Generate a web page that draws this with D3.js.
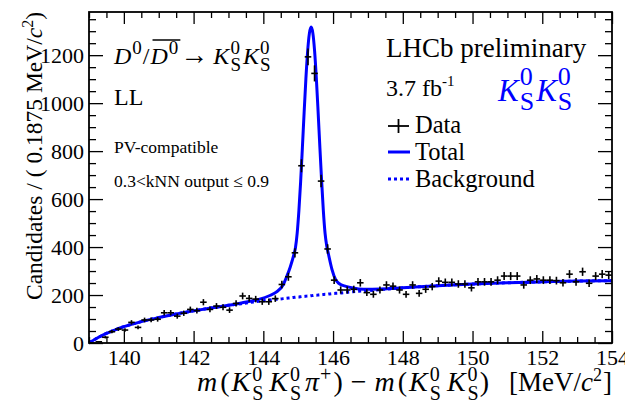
<!DOCTYPE html>
<html>
<head>
<meta charset="utf-8">
<script src="https://cdn.jsdelivr.net/npm/d3@7"></script>
<style>
  body { margin: 0; background: #fff; }
  svg { display: block; }
  text { font-family: "Liberation Serif", "Times New Roman", serif; }
</style>
</head>
<body>
<svg id="chart" width="625" height="406"></svg>
<script>
// Histogram: delta-m spectrum, 80 bins of 0.1875 MeV/c^2 from 139 to 154
const binLow = 139.0;
const binWidth = 0.1875;
const counts = [
  0, 5, 24, 47, 58, 54, 86, 65, 96, 96,
  99, 126, 126, 112, 124, 140, 135, 170, 140, 154,
  149, 137, 165, 196, 186, 183, 172, 172, 185, 244,
  276, 376, 739, 1193, 1124, 675, 392, 262, 221, 221,
  224, 251, 210, 203, 221, 242, 237, 221, 203, 242,
  207, 224, 235, 258, 253, 253, 246, 246, 230, 255,
  255, 255, 262, 279, 279, 279, 242, 262, 267, 262,
  262, 260, 251, 287, 255, 297, 249, 279, 287, 283
];

// Fit components sampled along delta-m
const fitX = [
  139.0, 139.25, 139.5, 139.75, 140.0, 140.5, 141.0, 141.5, 142.0, 142.5, 143.0,
  143.37, 143.87, 144.17, 144.37, 144.57, 144.67, 144.77, 144.87,
  144.92, 144.97, 145.02, 145.07, 145.12, 145.17, 145.22, 145.27, 145.32, 145.37,
  145.42, 145.47, 145.52, 145.57, 145.62, 145.67, 145.72, 145.77, 145.82, 145.87,
  145.97, 146.07, 146.17, 146.37, 146.57, 146.87, 147.37,
  148.0, 149.0, 150.0, 151.0, 152.0, 153.0, 154.0
];
const fitBkg = [
  0, 22, 40, 55, 68, 89, 106, 121, 134, 146, 157,
  164, 174, 179, 182, 185, 187, 188, 190,
  191, 192, 192, 193, 194, 194, 195, 196, 196, 197,
  198, 199, 199, 200, 201, 201, 202, 203, 203, 204,
  206, 207, 208, 211, 214, 217, 223,
  230, 239, 246, 251, 255, 258, 260
];
const fitSig = [
  0, 0, 0, 0, 0, 0, 0, 0, 0, 0, 0,
  3, 8, 18, 30, 58, 90, 128, 175,
  205, 265, 360, 480, 620, 767, 905, 1019, 1094, 1120,
  1094, 1019, 905, 767, 620, 480, 352, 255, 200, 165,
  100, 58, 40, 25, 15, 7, 2,
  0, 0, 0, 0, 0, 0, 0
];

const xTicks = [140, 142, 144, 146, 148, 150, 152, 154];
const yTicks = [0, 200, 400, 600, 800, 1000, 1200];

const xDomain = [139, 154];
const yDomain = [0, 1380];

const svg = d3.select("#chart");
svg.append("rect").attr("width", 625).attr("height", 406).attr("fill", "#fff");

const frame = { left: 89, right: 612, top: 12, bottom: 343 };
const x = d3.scaleLinear().domain(xDomain).range([frame.left, frame.right]);
const y = d3.scaleLinear().domain(yDomain).range([frame.bottom, frame.top]);

const blue = "#0000ff";

// ---- fit curves ----
const total = fitX.map((v, i) => [v, fitBkg[i] + fitSig[i]]);
const bkg = fitX.map((v, i) => [v, fitBkg[i]]);
const line = d3.line().x(d => x(d[0])).y(d => y(d[1])).curve(d3.curveMonotoneX);

svg.append("path").datum(bkg).attr("d", line)
  .attr("fill", "none").attr("stroke", blue).attr("stroke-width", 3)
  .attr("stroke-dasharray", "3,3");
svg.append("path").datum(total).attr("d", line)
  .attr("fill", "none").attr("stroke", blue).attr("stroke-width", 3);

// ---- data points with errors ----
const data = counts.map((n, i) => ({
  lo: binLow + i * binWidth,
  hi: binLow + (i + 1) * binWidth,
  c: binLow + (i + 0.5) * binWidth,
  n: n,
  e: Math.sqrt(n)
}));
const pts = svg.append("g").attr("stroke", "#000").attr("stroke-width", 1.6);
pts.selectAll("line.h").data(data).join("line").attr("class", "h")
  .attr("x1", d => x(d.lo)).attr("x2", d => x(d.hi))
  .attr("y1", d => y(d.n)).attr("y2", d => y(d.n));
pts.selectAll("line.v").data(data).join("line").attr("class", "v")
  .attr("x1", d => x(d.c)).attr("x2", d => x(d.c))
  .attr("y1", d => y(Math.max(0, d.n - d.e))).attr("y2", d => y(d.n + d.e));

// ---- axes (ticks on all four sides, pointing inward) ----
const xMinor = d3.range(139, 154.001, 0.5).filter(v => !xTicks.includes(v));
const yMinor = d3.range(0, 1380, 50).filter(v => !yTicks.includes(v));

function styleAxis(g) {
  g.select(".domain").remove();
  g.selectAll(".tick line").attr("stroke", "#000").attr("stroke-width", 1.3);
  g.selectAll(".tick text").attr("fill", "#000")
    .style("font-family", '"Liberation Serif", "Times New Roman", serif');
}

svg.append("g").attr("transform", `translate(0,${frame.bottom})`)
  .call(d3.axisBottom(x).tickValues(xTicks).tickSize(-12).tickPadding(6).tickFormat(d3.format("d")))
  .call(styleAxis).call(g => g.selectAll(".tick text").style("font-size", "22px"));
svg.append("g").attr("transform", `translate(0,${frame.bottom})`)
  .call(d3.axisBottom(x).tickValues(xMinor).tickSize(-6).tickFormat(""))
  .call(styleAxis);
svg.append("g").attr("transform", `translate(0,${frame.top})`)
  .call(d3.axisTop(x).tickValues(xTicks).tickSize(-12).tickFormat(""))
  .call(styleAxis);
svg.append("g").attr("transform", `translate(0,${frame.top})`)
  .call(d3.axisTop(x).tickValues(xMinor).tickSize(-6).tickFormat(""))
  .call(styleAxis);

svg.append("g").attr("transform", `translate(${frame.left},0)`)
  .call(d3.axisLeft(y).tickValues(yTicks).tickSize(-14).tickPadding(5).tickFormat(d3.format("d")))
  .call(styleAxis).call(g => g.selectAll(".tick text").style("font-size", "22px"));
svg.append("g").attr("transform", `translate(${frame.left},0)`)
  .call(d3.axisLeft(y).tickValues(yMinor).tickSize(-7).tickFormat(""))
  .call(styleAxis);
svg.append("g").attr("transform", `translate(${frame.right},0)`)
  .call(d3.axisRight(y).tickValues(yTicks).tickSize(-14).tickFormat(""))
  .call(styleAxis);
svg.append("g").attr("transform", `translate(${frame.right},0)`)
  .call(d3.axisRight(y).tickValues(yMinor).tickSize(-7).tickFormat(""))
  .call(styleAxis);

svg.append("rect")
  .attr("x", frame.left).attr("y", frame.top)
  .attr("width", frame.right - frame.left).attr("height", frame.bottom - frame.top)
  .attr("fill", "none").attr("stroke", "#000").attr("stroke-width", 1.8);

// ---- rich text helper: runs of text with sub/superscripts ----
function richText(g, x0, y0, parts, fill) {
  let cx = x0;
  const spans = [];
  const put = (t, px, py, size, it) => {
    const el = g.append("text").attr("x", px).attr("y", py).attr("fill", fill || "#000")
      .style("font-size", size + "px").style("font-style", it ? "italic" : "normal").text(t);
    return el.node().getComputedTextLength();
  };
  parts.forEach(p => {
    const start = cx;
    if (p.sup !== undefined || p.sub !== undefined) {
      let w1 = 0, w2 = 0;
      if (p.sup) w1 = put(p.sup, cx, y0 - p.rise, p.size, p.it);
      if (p.sub) w2 = put(p.sub, cx, y0 + p.drop, p.size, p.it);
      cx += Math.max(w1, w2);
    } else {
      cx += put(p.t, cx, y0 - (p.rise || 0), p.size, p.it);
    }
    if (p.gap) cx += p.gap;
    spans.push([start, cx]);
  });
  return { end: cx, spans };
}

function kShort(size, subSize, rise, drop, gap) {
  return [
    { t: "K", size: size, it: true, gap: 2 },
    { sup: "0", sub: "S", size: subSize, rise: rise, drop: drop, gap: gap }
  ];
}

// ---- x axis title (right aligned to frame) ----
{
  const g = svg.append("g");
  const s = 28, ss = 20, r = 10, dr = 9, gp = 6;
  const parts = [
    { t: "m", size: s, it: true, gap: 3 }, { t: "(", size: s, gap: 2 },
    ...kShort(s, ss, r, dr, gp), ...kShort(s, ss, r, dr, gp - 2),
    { t: "π", size: s, it: true, gap: 1 }, { t: "+", size: ss, rise: r, gap: 2 },
    { t: ")", size: s, gap: 8 }, { t: "−", size: s, gap: 8 },
    { t: "m", size: s, it: true, gap: 3 }, { t: "(", size: s, gap: 2 },
    ...kShort(s, ss, r, dr, gp), ...kShort(s, ss, r, dr, 1),
    { t: ")", size: s, gap: 20 },
    { t: "[MeV/", size: s - 1 }, { t: "c", size: s - 1, it: true },
    { t: "2", size: ss - 2, rise: r, gap: 1 }, { t: "]", size: s - 1 }
  ];
  const res = richText(g, 0, 0, parts);
  g.attr("transform", `translate(${frame.right - res.end},391)`);
}

// ---- y axis title (rotated, right aligned to top of frame) ----
{
  const g = svg.append("g");
  const s = 23.5;
  const parts = [
    { t: "Candidates / ( 0.1875 MeV/", size: s },
    { t: "c", size: s, it: true },
    { t: "2", size: 16, rise: 9 },
    { t: " )", size: s }
  ];
  const res = richText(g, 0, 0, parts);
  g.attr("transform", `translate(42,${frame.top + res.end}) rotate(-90)`);
}

// ---- left annotations ----
{
  const g = svg.append("g");
  const s = 24, ss = 19;
  const parts = [
    { t: "D", size: s, it: true, gap: 1 }, { t: "0", size: ss, rise: 10, gap: 1 },
    { t: "/", size: s, gap: 1 },
    { t: "D", size: s, it: true, gap: 1 }, { t: "0", size: ss, rise: 10, gap: 2 },
    { t: "→", size: s + 4, gap: 5 },
    { t: "K", size: s, it: true, gap: 1 },
    { sup: "0", sub: "S", size: ss, rise: 10, drop: 7, gap: 2 },
    { t: "K", size: s, it: true, gap: 1 },
    { sup: "0", sub: "S", size: ss, rise: 10, drop: 7 }
  ];
  const res = richText(g, 114, 64, parts);
  // bar over the anti-D
  const a = res.spans[3][0], b = res.spans[4][1];
  g.append("line").attr("x1", a + 2).attr("x2", b).attr("y1", 40).attr("y2", 40)
    .attr("stroke", "#000").attr("stroke-width", 1.5);

  svg.append("text").attr("x", 114).attr("y", 105).style("font-size", "24px").text("LL");
  svg.append("text").attr("x", 114).attr("y", 153).style("font-size", "17.5px").text("PV-compatible");
  svg.append("text").attr("x", 114).attr("y", 187).style("font-size", "17.5px").text("0.3<kNN output ≤ 0.9");
}

// ---- right annotations ----
svg.append("text").attr("x", 386).attr("y", 57).style("font-size", "27px").text("LHCb preliminary");
{
  const g = svg.append("g");
  richText(g, 386, 96, [
    { t: "3.7 fb", size: 24 },
    { t: "-1", size: 15, rise: 10 }
  ]);
}
{
  const g = svg.append("g");
  richText(g, 498, 101, [
    { t: "K", size: 31, it: true, gap: 1 },
    { sup: "0", sub: "S", size: 26, rise: 16, drop: 9, gap: 2 },
    { t: "K", size: 31, it: true, gap: 1 },
    { sup: "0", sub: "S", size: 26, rise: 16, drop: 9 }
  ], blue);
}

// ---- legend ----
const legendItems = ["Data", "Total", "Background"];
const legendY = [133, 160, 187];
const lg = svg.append("g");
lg.append("line").attr("x1", 388).attr("x2", 409).attr("y1", legendY[0] - 7).attr("y2", legendY[0] - 7)
  .attr("stroke", "#000").attr("stroke-width", 1.8);
lg.append("line").attr("x1", 398.5).attr("x2", 398.5).attr("y1", legendY[0] - 14).attr("y2", legendY[0])
  .attr("stroke", "#000").attr("stroke-width", 1.8);
lg.append("line").attr("x1", 388).attr("x2", 410).attr("y1", legendY[1] - 8).attr("y2", legendY[1] - 8)
  .attr("stroke", blue).attr("stroke-width", 3);
lg.append("line").attr("x1", 388).attr("x2", 410).attr("y1", legendY[2] - 8).attr("y2", legendY[2] - 8)
  .attr("stroke", blue).attr("stroke-width", 3).attr("stroke-dasharray", "3,3");
lg.selectAll("text").data(legendItems).join("text")
  .attr("x", 415).attr("y", (d, i) => legendY[i])
  .style("font-size", "24.5px").text(d => d);
</script>
</body>
</html>
